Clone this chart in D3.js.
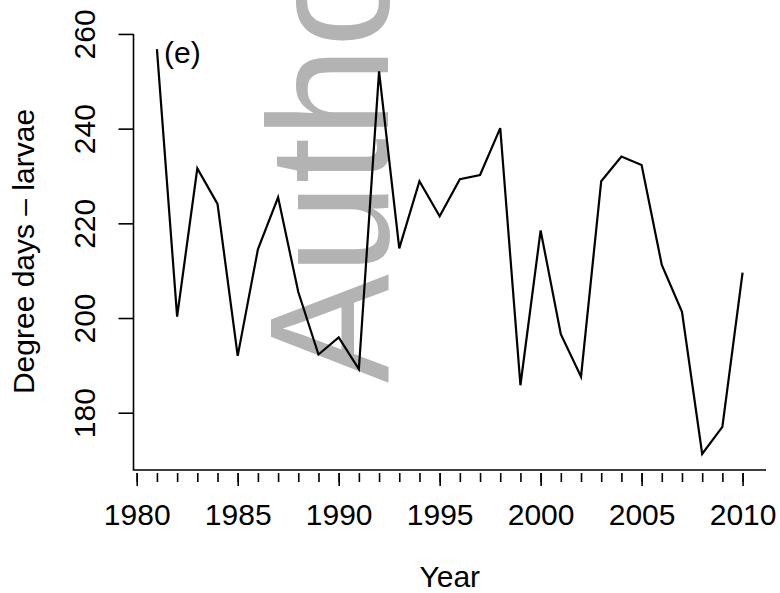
<!DOCTYPE html>
<html>
<head>
<meta charset="utf-8">
<script src="https://cdn.jsdelivr.net/npm/d3@7"></script>
<style>
  html, body { margin: 0; padding: 0; background: #fff; }
  svg { display: block; }
  text { font-family: "Liberation Sans", Arial, Helvetica, sans-serif; }
</style>
</head>
<body>
<svg id="chart" width="780" height="593"></svg>
<script>
const years = [1981,1982,1983,1984,1985,1986,1987,1988,1989,1990,
               1991,1992,1993,1994,1995,1996,1997,1998,1999,2000,
               2001,2002,2003,2004,2005,2006,2007,2008,2009,2010];
const degreeDays = [256.8,200.3,231.6,224.1,192.0,214.5,225.5,205.5,192.3,195.9,
                    189.2,252.1,214.7,228.9,221.5,229.3,230.2,240.1,185.8,218.5,
                    196.6,187.6,228.9,234.1,232.3,211.2,201.3,171.3,177.0,209.6];
const yTicks = [180, 200, 220, 240, 260];
const xMajorTicks = [1980, 1985, 1990, 1995, 2000, 2005, 2010];
const xMinorTicks = d3.range(1980, 2011);
const panelLabel = "(e)";
const xTitle = "Year";
const yTitle = "Degree days \u2013 larvae";
const watermark = "Author";

const svg = d3.select("#chart");
const FS = 30;

const x = d3.scaleLinear().domain([1979.84, 2011.16]).range([133.5, 766]);
const y = d3.scaleLinear().domain([167.9, 260.2]).range([470, 33]);

// watermark (behind data)
svg.append("text")
  .attr("transform", "translate(388,383) rotate(-90) scale(0.96,1)")
  .attr("font-size", 170)
  .attr("fill", "#b3b3b3")
  .text(watermark);

// L-shaped box
svg.append("path")
  .attr("d", `M${x.range()[0]},${y(260)}V${y.range()[0]}H${x.range()[1]}`)
  .attr("fill", "none").attr("stroke", "#000").attr("stroke-width", 1.6);

// y axis
const yAxis = svg.append("g")
  .attr("transform", `translate(${x.range()[0]},0)`)
  .call(d3.axisLeft(y).tickValues(yTicks).tickSize(15).tickFormat(d3.format("d")));
yAxis.select(".domain").remove();
yAxis.selectAll(".tick line").attr("stroke", "#000").attr("stroke-width", 1.6);
yAxis.selectAll(".tick text")
  .attr("x", null).attr("dy", null)
  .attr("transform", "translate(-38.5,0) rotate(-90)")
  .attr("text-anchor", "middle")
  .attr("font-size", FS).attr("fill", "#000");

// x axis: minor ticks
const xMinor = svg.append("g")
  .attr("transform", "translate(0,473)")
  .call(d3.axisBottom(x).tickValues(xMinorTicks).tickSize(9).tickFormat(""));
xMinor.select(".domain").remove();
xMinor.selectAll(".tick line").attr("stroke", "#000").attr("stroke-width", 1.6);

// x axis: major ticks with labels
const xMajor = svg.append("g")
  .attr("transform", "translate(0,473)")
  .call(d3.axisBottom(x).tickValues(xMajorTicks).tickSize(13).tickFormat(d3.format("d")));
xMajor.select(".domain").remove();
xMajor.selectAll(".tick line").attr("stroke", "#000").attr("stroke-width", 1.6);
xMajor.selectAll(".tick text")
  .attr("y", 51.5).attr("dy", null)
  .attr("font-size", FS).attr("fill", "#000");

// series line
const line = d3.line().x((d, i) => x(years[i])).y(d => y(d));
svg.append("path")
  .datum(degreeDays)
  .attr("d", line)
  .attr("fill", "none").attr("stroke", "#000").attr("stroke-width", 2.2)
  .attr("stroke-linejoin", "miter");

// panel label
svg.append("text")
  .attr("x", 164).attr("y", 63)
  .attr("font-size", FS)
  .text(panelLabel);

// axis titles
svg.append("text")
  .attr("x", (x.range()[0] + x.range()[1]) / 2).attr("y", 587)
  .attr("text-anchor", "middle").attr("font-size", FS)
  .text(xTitle);

svg.append("text")
  .attr("transform", `translate(34,${(y.range()[0] + y.range()[1]) / 2}) rotate(-90)`)
  .attr("text-anchor", "middle").attr("font-size", FS)
  .text(yTitle);
</script>
</body>
</html>
